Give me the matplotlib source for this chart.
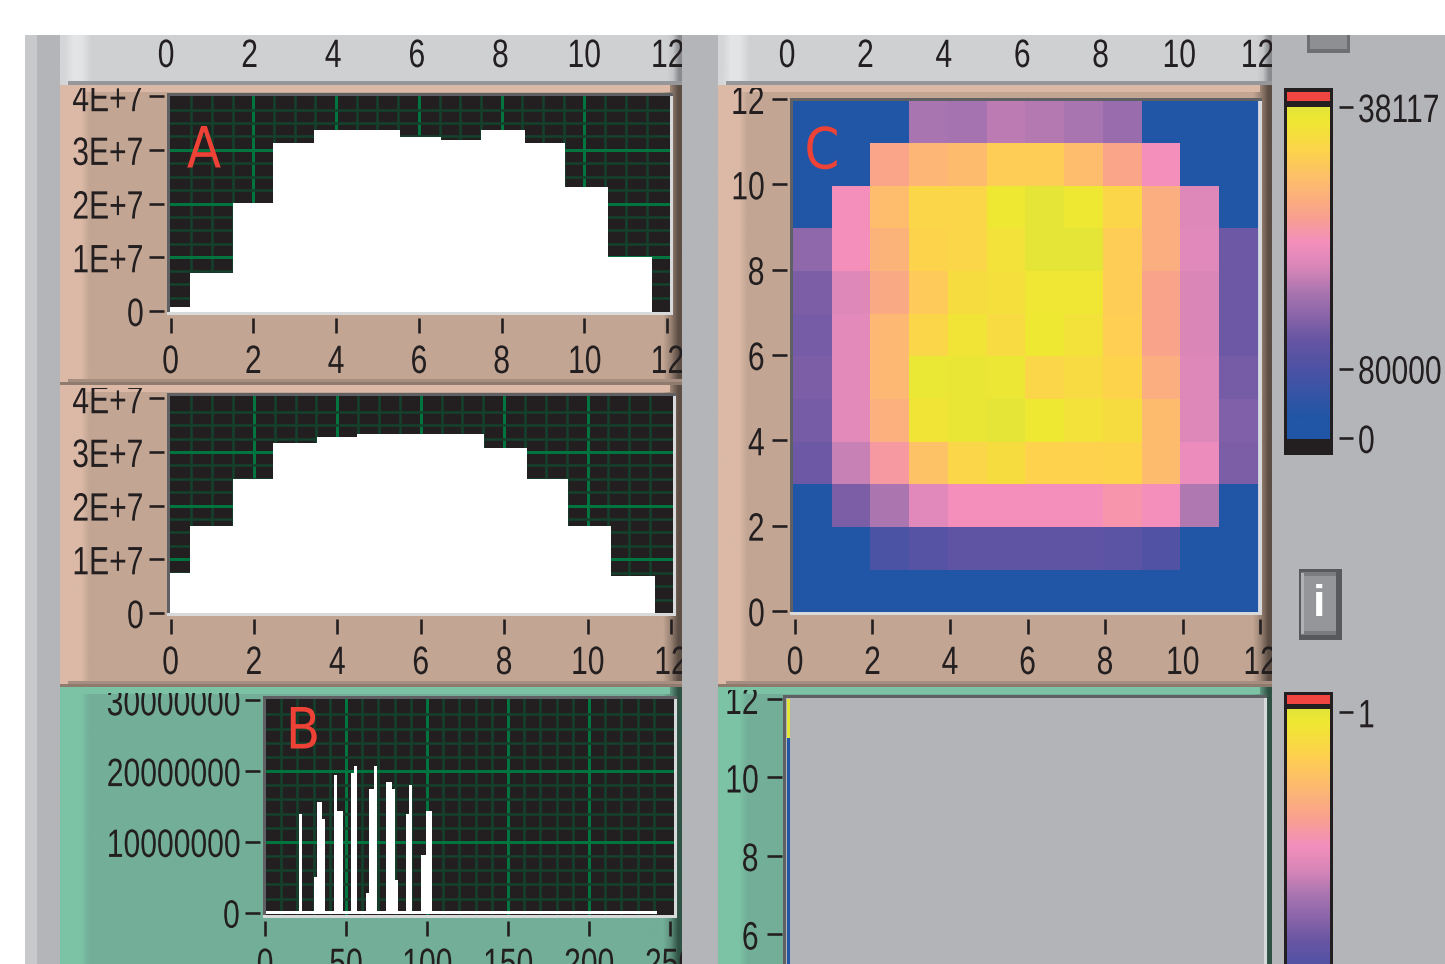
import numpy as np
import matplotlib
matplotlib.use('Agg')
import matplotlib.pyplot as plt
from matplotlib.colors import LinearSegmentedColormap, to_rgb
from matplotlib.patches import Rectangle
from matplotlib.patheffects import AbstractPathEffect
from matplotlib.transforms import Affine2D, Bbox

W, H = 1445, 964

# histogramas A
counts_a1 = [0.07e7, 0.71e7, 2.02e7, 3.13e7, 3.37e7, 3.37e7, 3.24e7, 3.19e7, 3.37e7, 3.13e7, 2.31e7, 1.0e7]
edges_a1 = [-0.06, 0.47, 1.51, 2.48, 3.47, 4.53, 5.54, 6.54, 7.5, 8.57, 9.53, 10.57, 11.62]
counts_a2 = [0.74e7, 1.62e7, 2.5e7, 3.16e7, 3.27e7, 3.33e7, 3.33e7, 3.33e7, 3.08e7, 2.5e7, 1.62e7, 0.68e7]
edges_a2 = [-0.06, 0.47, 1.5, 2.46, 3.51, 4.47, 5.49, 6.5, 7.52, 8.55, 9.53, 10.57, 11.62]

# histograma B: bordes y alturas
spikes_left = [21, 30.2, 32.1, 35.2, 42.6, 44.4, 53.1, 54.9, 62.3, 64.2, 67.3, 74.7, 78.4, 80.2, 87, 88.9, 96.3, 99.4]
spikes_right = [22.8, 32.1, 35.2, 37, 44.4, 48.1, 54.9, 56.8, 64.2, 67.3, 69.1, 78.4, 80.2, 82.1, 88.9, 90.7, 99.4, 103.1]
spikes_val = [14.0e6, 5.05e6, 15.7e6, 13.2e6, 19.4e6, 14.4e6, 19.8e6, 20.7e6, 2.8e6, 17.5e6, 20.7e6,
              18.4e6, 17.5e6, 4.6e6, 14.0e6, 18.0e6, 8.2e6, 14.4e6]

# mapa C, filas de arriba a abajo, 0-100 sobre la escala de color
heat_rows = [
    [6, 6, 6, 44, 43, 47, 46, 44, 40, 6, 6, 6],
    [6, 6, 69, 75, 77, 84, 84, 78, 69, 59, 6, 6],
    [6, 59, 78, 88, 88, 96, 99, 96, 88, 72, 53, 6],
    [38, 59, 74, 87, 88, 93, 99, 99, 84, 72, 54, 31],
    [34, 53, 70, 83, 91, 92, 95, 95, 84, 68, 52, 31],
    [33, 55, 76, 88, 94, 90, 96, 93, 85, 68, 52, 31],
    [34, 55, 76, 97, 98, 96.5, 88, 90, 87, 72, 53, 33],
    [33, 55, 73, 94, 98, 99, 96, 93, 91, 77, 53, 35],
    [31, 49, 64, 80, 88, 91, 86.5, 86.5, 87, 77, 57, 34],
    [6, 34, 44.5, 54, 59, 59, 59, 59, 62, 59, 45, 6],
    [6, 6, 20, 24, 27, 27, 27, 27, 26, 23, 6, 6],
    [6, 6, 6, 6, 6, 6, 6, 6, 6, 6, 6, 6],
]
empty_rows = [100, 6, 6, 6, 6, 6, 6, 6, 6, 6, 6, 6]

scale_pos = [0, 6, 16, 23, 30, 36, 44, 51.4, 59, 67, 76, 86.5, 96, 100]
scale_col = ['#2056a5', '#2056a5', '#3e54a5', '#5352a4', '#6756a3', '#8662a9', '#a975b0', '#d786b8',
             '#f48fbd', '#f9a08f', '#fdb873', '#fed24d', '#efe832', '#e3e43a']
scale_cmap = LinearSegmentedColormap.from_list('scale', [(p / 100, c) for p, c in zip(scale_pos, scale_col)])

x_ticks = [0, 2, 4, 6, 8, 10, 12]
a_yticks = [0, 1e7, 2e7, 3e7, 4e7]
a_ylabels = ['0', '1E+7', '2E+7', '3E+7', '4E+7']
b_xticks = [0, 50, 100, 150, 200, 250]
b_yticks = [0, 1e7, 2e7, 3e7]
b_ylabels = ['0', '10000000', '20000000', '30000000']

INK = '#231f20'
RED = '#ee4237'
FS = 28.5
SQ = 0.76
PX = 0.72

plt.rcParams['font.family'] = ['Liberation Sans', 'DejaVu Sans']


class Squeeze(AbstractPathEffect):
    # la fuente original es muy estrecha: comprime el texto en horizontal
    def __init__(self, sx, anchor):
        super().__init__()
        self.sx = sx
        self.anchor = anchor

    def draw_path(self, renderer, gc, tpath, affine, rgbFace=None):
        ext = tpath.get_extents()
        ref = {'left': 0, 'center': (ext.x0 + ext.x1) / 2, 'right': ext.x1}[self.anchor]
        squeeze = Affine2D().translate(-ref, 0).scale(self.sx, 1).translate(ref, 0)
        renderer.draw_path(gc, tpath, squeeze + affine, rgbFace)


fig = plt.figure(figsize=(W / 100, H / 100), dpi=100, facecolor='white')

bg = fig.add_axes([0, 0, 1, 1], zorder=-1)
bg.axis('off')


def hgrad(x0, x1, y0, y1, cols):
    arr = np.array([[to_rgb(c) for c in cols]])
    bg.imshow(arr, extent=(x0, x1, y1, y0), aspect='auto', interpolation='bilinear', zorder=1)


def box(x0, y0, x1, y1, col, z=2):
    bg.add_patch(Rectangle((x0, y0), x1 - x0, y1 - y0, facecolor=col, edgecolor='none', zorder=z))


def panel(x0, y0, x1, y1, base, light, edge1, edge2, shade1, shade2):
    box(x0, y0, x1, y1, base, 0.5)
    hgrad(x0, x0 + 34, y0, y1, [light, light, light, base])
    hgrad(x1 - 30, x1, y0, y1, [base, base, edge1, edge2])
    box(x0 + 8, y0, x1 - 12, y0 + 7, light)
    box(x0 + 8, y1 - 6, x1, y1 - 3, shade1)
    box(x0, y1 - 3, x1, y1, shade2)


def px_axes(x0, y0, x1, y1, gap_x=5, gap_y=4):
    ax = fig.add_axes([x0 / W, 1 - y1 / H, (x1 - x0) / W, (y1 - y0) / H])
    # las marcas van separadas del marco
    ax.spines['bottom'].set_position(('outward', gap_x * PX))
    ax.spines['left'].set_position(('outward', gap_y * PX))
    return ax


def style_labels(labels, anchor, x0, y0, x1, y1):
    bb = Bbox.from_extents(x0, H - y1, x1, H - y0)
    for lab in labels:
        lab.set_clip_box(bb)
        lab.set_clip_on(True)
        lab.set_path_effects([Squeeze(SQ, anchor)])


def frame(ax):
    ax.spines['bottom'].set_visible(False)
    ax.spines['left'].set_visible(False)
    for s in ['top', 'right']:
        ax.spines[s].set_linewidth(3 * PX)
    ax.spines['top'].set_color('#5f6063')
    ax.spines['right'].set_color('#d8d9db')
    ax.plot([0, 0], [0, 1], transform=ax.transAxes, color='#5f6063', lw=3 * PX, clip_on=False, zorder=3)
    ax.plot([0, 1], [0, 0], transform=ax.transAxes, color='#d8d9db', lw=3 * PX, clip_on=False, zorder=3)


def ticks(ax, pad_x=10, pad_y=5):
    ax.tick_params(axis='x', length=15 * PX, width=2.6 * PX, color=INK, labelsize=FS, labelcolor=INK, pad=pad_x * PX)
    ax.tick_params(axis='y', length=15 * PX, width=2.6 * PX, color=INK, labelsize=FS, labelcolor=INK, pad=pad_y * PX)
    for t in ax.get_xticklines() + ax.get_yticklines():
        t.set_clip_on(False)


def scope(ax, xminor, yminor):
    ax.set_facecolor('#231f20')
    ax.set_xticks(xminor, minor=True)
    ax.set_yticks(yminor, minor=True)
    ax.tick_params(which='minor', length=0)
    ax.grid(True, which='minor', color='#14402c', linewidth=2.6 * PX)
    ax.grid(True, which='major', color='#007540', linewidth=3 * PX)
    ax.set_axisbelow(True)
    frame(ax)


def hide_outer_grid(ax):
    xl, yl = ax.get_xgridlines(), ax.get_ygridlines()
    for g in [xl[0], xl[-1], yl[0], yl[-1]]:
        g.set_visible(False)


def header(x0, x1, zero, scale):
    hdr = fig.add_axes([x0 / W, 1 - 71 / H, (x1 - x0) / W, 1 / H])
    hdr.patch.set_alpha(0)
    hdr.set_xlim((x0 - zero) / scale, (x1 - zero) / scale)
    hdr.set_yticks([])
    for s in hdr.spines.values():
        s.set_visible(False)
    hdr.xaxis.tick_top()
    hdr.set_xticks(x_ticks)
    hdr.tick_params(axis='x', length=0, labelsize=FS, labelcolor=INK, pad=-5 * PX)
    style_labels(hdr.get_xticklabels(), 'center', x0, 35, x1, 85)


def big_letter(x, y, s):
    t = fig.text(x / W, 1 - y / H, s, color=RED, fontsize=41, family='DejaVu Sans', ha='center', va='center')
    t.set_path_effects([Squeeze(0.88, 'center')])


# fondo tipo panel
box(25, 35, W, H, '#b4b5b9', 0.2)
box(25, 35, 37, H, '#c8c9cb', 0.3)

tan = ('#c2a593', '#dcb9a7', '#9a8374', '#5c4e45', '#a58d7f', '#8f7a6e')
green = ('#72ae98', '#7cc3a6', '#5f917e', '#2f5245', '#6aa58f', '#5f957f')
for x0, x1 in [(60, 682), (718, 1272)]:
    box(x0, 35, x1, 85, '#cfd0d2', 0.5)
    hgrad(x0, x0 + 36, 35, 85, ['#d4d5d7', '#e4e5e6', '#e2e3e4', '#cfd0d2'])
    hgrad(x1 - 18, x1, 35, 85, ['#cfd0d2', '#c4c5c7', '#8a8b8e'])
    box(x0 + 8, 81, x1, 85, '#96979a')
    panel(x0, 687, x1, H + 10, *green)
panel(60, 85, 682, 385, *tan)
panel(60, 385, 682, 687, *tan)
panel(718, 85, 1272, 687, *tan)

# botones
box(1307, 35, 1350, 53, '#6e6f71', 3)
box(1310, 35, 1347, 49, '#8e8f92', 4)
box(1299, 569, 1342, 640, '#58595c', 3)
box(1301, 572, 1336, 635, '#7b7c7f', 4)
box(1301, 573, 1304, 634, '#b0b1b3', 5)
box(1304, 576, 1336, 631, '#95969a', 5)
bg.text(1319.5, 605, 'i', color='white', fontsize=32, fontweight='bold', ha='center', va='center', zorder=6)

# marcos de las barras de color
box(1284, 88, 1333, 455, INK, 3)
box(1287, 92, 1330, 101, '#f04540', 4)
box(1284, 692, 1333, H + 5, INK, 3)
box(1287, 695, 1330, 704, '#f04540', 4)

bg.set_xlim(0, W)
bg.set_ylim(H, 0)

header(60, 682, 166, 41.8)
header(718, 1272, 787, 39.2)

# A arriba y abajo
for counts, edges, (x0, y0, x1, y1), zero_x, sx, zero_y, clip in [
    (counts_a1, edges_a1, (168, 94, 671, 313), 170.5, 41.4, 309, (60, 88, 682, 385)),
    (counts_a2, edges_a2, (168, 394, 674, 614), 170.5, 41.7, 611, (60, 388, 682, 687)),
]:
    ax = px_axes(x0, y0, x1, y1)
    ylo = -(y1 - 2 - zero_y) / 53.2 * 1e7
    ax.set_xlim((x0 - zero_x) / sx, (x1 - zero_x) / sx)
    ax.set_ylim(ylo, (zero_y - y0) / 53.2 * 1e7)
    scope(ax, np.arange(0, 12.5, 0.5), np.arange(0, 4e7, 2.5e6))
    ax.stairs(counts, edges, baseline=ylo, fill=True, color='white', zorder=2.5)
    ax.set_xticks(x_ticks)
    ax.set_yticks(a_yticks)
    ax.set_yticklabels(a_ylabels)
    ticks(ax)
    hide_outer_grid(ax)
    style_labels(ax.get_xticklabels(), 'center', *clip)
    style_labels(ax.get_yticklabels(), 'right', *clip)

big_letter(204, 152, 'A')

# B
ax = px_axes(264, 697, 675, 916)
ylo = -(914 - 912.7) / 70.8 * 1e7
ax.set_xlim((264 - 265) / 1.62, (675 - 265) / 1.62)
ax.set_ylim(-(916 - 912.7) / 70.8 * 1e7, (912.7 - 697) / 70.8 * 1e7)
scope(ax, np.arange(0, 260, 10), np.arange(0, 3.1e7, 2e6))
ax.bar(spikes_left, np.array(spikes_val) - ylo, width=np.array(spikes_right) - np.array(spikes_left),
       bottom=ylo, align='edge', color='white', linewidth=0, zorder=2.5)
ax.bar(-1, 0.28e6 - ylo, width=242.7, bottom=ylo, align='edge', color='white', linewidth=0, zorder=2.5)
ax.set_xticks(b_xticks)
ax.set_yticks(b_yticks)
ax.set_yticklabels(b_ylabels)
ticks(ax)
hide_outer_grid(ax)
style_labels(ax.get_xticklabels(), 'center', 60, 693, 682, H)
style_labels(ax.get_yticklabels(), 'right', 60, 693, 682, H)

big_letter(303, 733, 'B')

# C
ax = px_axes(791, 99, 1260, 613, gap_x=6)
ax.set_facecolor('#c9cfe0')
ax.pcolormesh(np.arange(13) - 0.054, np.arange(13) - 0.035, np.array(heat_rows)[::-1], cmap=scale_cmap,
              vmin=0, vmax=100, shading='flat')
ax.set_xlim((791 - 795) / 38.75, (1260 - 795) / 38.75)
ax.set_ylim((611 - 613) / 42.67, (611 - 99) / 42.67)
frame(ax)
ax.set_xticks(x_ticks)
ax.set_yticks(x_ticks)
ticks(ax, pad_y=7)
style_labels(ax.get_xticklabels(), 'center', 718, 88, 1272, 687)
style_labels(ax.get_yticklabels(), 'right', 718, 88, 1272, 687)

big_letter(822, 153, 'C')

# mapa vacio de abajo
ax = px_axes(784, 696, 1265, 1173, gap_y=2)
ax.set_facecolor('#b3b4b8')
ax.pcolormesh([0.08, 0.16], np.arange(13), np.array(empty_rows)[::-1].reshape(-1, 1), cmap=scale_cmap,
              vmin=0, vmax=100, shading='flat')
ax.set_xlim(0, 12.4)
ax.set_ylim(12 - (1173 - 699) / 39.25, 12 + 3 / 39.25)
frame(ax)
ax.set_xticks([])
ax.set_yticks(x_ticks)
ticks(ax, pad_y=8)
style_labels(ax.get_yticklabels(), 'right', 718, 690, 1272, H)

# barras de color
for y_top, tick_vals, tick_labs in [(107, [100, 21.2, 0.3], ['38117', '80000', '0']), (709, [99], ['1'])]:
    cb = fig.add_axes([1287 / W, 1 - (y_top + 332) / H, 43 / W, 332 / H])
    cb.spines['right'].set_position(('outward', 9 * PX))
    cb.imshow(np.linspace(100, 0, 256).reshape(-1, 1), cmap=scale_cmap, vmin=0, vmax=100, aspect='auto',
              extent=(0, 1, 0, 100))
    for s in cb.spines.values():
        s.set_visible(False)
    cb.set_xticks([])
    cb.yaxis.tick_right()
    cb.set_yticks(tick_vals)
    cb.set_yticklabels(tick_labs)
    cb.tick_params(axis='y', length=14 * PX, width=2.6 * PX, color=INK, labelsize=FS, labelcolor=INK, pad=5 * PX)
    for t in cb.get_yticklines():
        t.set_clip_on(False)
    style_labels(cb.get_yticklabels(), 'left', 1334, 0, W, H)

fig.savefig('out.png', dpi=100)
